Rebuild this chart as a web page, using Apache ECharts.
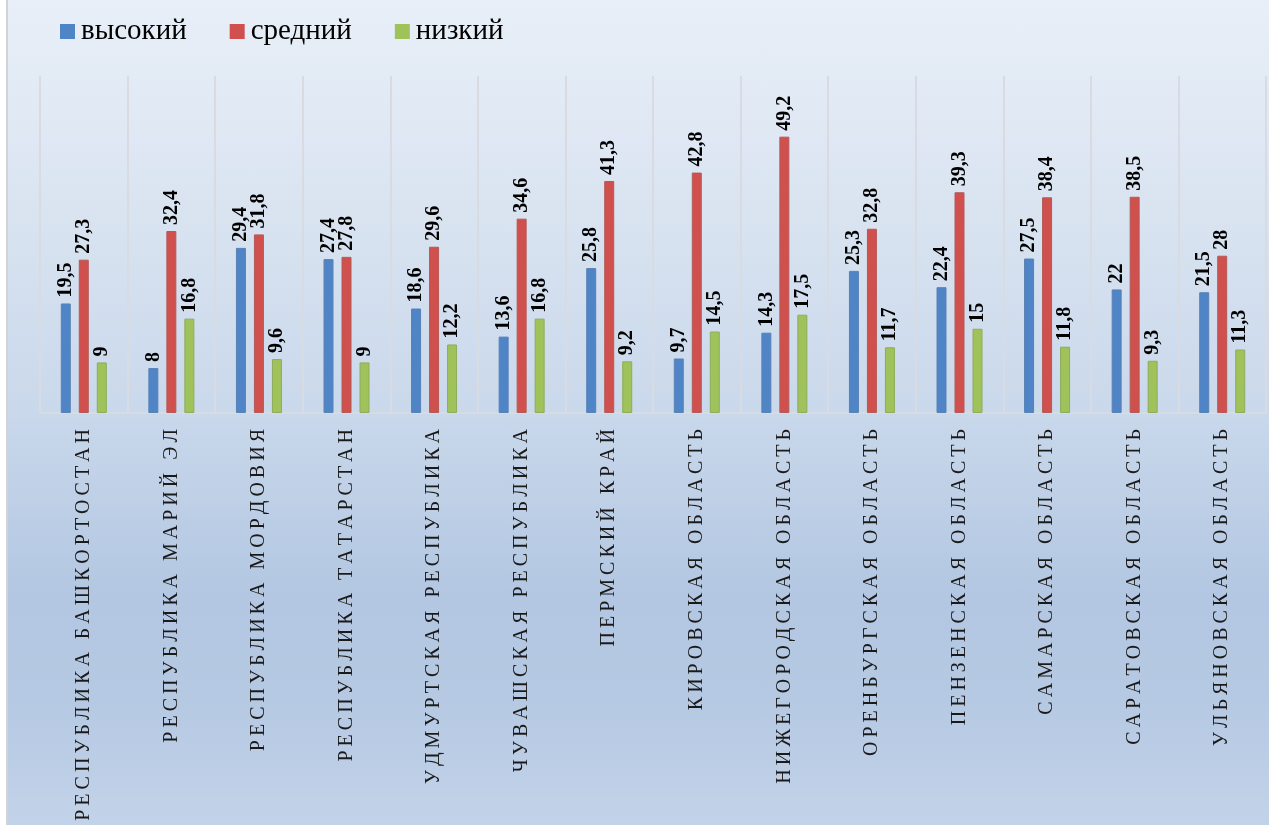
<!DOCTYPE html>
<html>
<head>
<meta charset="utf-8">
<script src="https://cdn.jsdelivr.net/npm/echarts@6/dist/echarts.min.js"></script>
<style>
  html, body { margin: 0; padding: 0; }
  #chart {
    width: 1269px; height: 825px;
    background:
      linear-gradient(to right, #ffffff 0, #ffffff 6px, #d2d4d8 6px, #d2d4d8 8px, rgba(0,0,0,0) 8px),
      linear-gradient(to bottom, #e8eff8 0%, #dae4f1 25%, #c9d8eb 50%, #b3c7e2 72%, #b6c9e3 85%, #c2d3e9 100%);
  }
</style>
</head>
<body>
<div id="chart"></div>
<script>
  // категории и значения
  const regions = ['РЕСПУБЛИКА БАШКОРТОСТАН', 'РЕСПУБЛИКА МАРИЙ ЭЛ', 'РЕСПУБЛИКА МОРДОВИЯ', 'РЕСПУБЛИКА ТАТАРСТАН',
    'УДМУРТСКАЯ РЕСПУБЛИКА', 'ЧУВАШСКАЯ РЕСПУБЛИКА', 'ПЕРМСКИЙ КРАЙ', 'КИРОВСКАЯ ОБЛАСТЬ',
    'НИЖЕГОРОДСКАЯ ОБЛАСТЬ', 'ОРЕНБУРГСКАЯ ОБЛАСТЬ', 'ПЕНЗЕНСКАЯ ОБЛАСТЬ', 'САМАРСКАЯ ОБЛАСТЬ',
    'САРАТОВСКАЯ ОБЛАСТЬ', 'УЛЬЯНОВСКАЯ ОБЛАСТЬ'];
  const seriesNames = ['высокий', 'средний', 'низкий'];
  const high = [19.5, 8, 29.4, 27.4, 18.6, 13.6, 25.8, 9.7, 14.3, 25.3, 22.4, 27.5, 22, 21.5];
  const mid = [27.3, 32.4, 31.8, 27.8, 29.6, 34.6, 41.3, 42.8, 49.2, 32.8, 39.3, 38.4, 38.5, 28];
  const low = [9, 16.8, 9.6, 9, 12.2, 16.8, 9.2, 14.5, 17.5, 11.7, 15, 11.8, 9.3, 11.3];

  const colors = ['#4f85c6', '#d0504d', '#9fc25a'];
  const borders = ['#5a82b4', '#b45a58', '#8eac5a'];
  const serif = '"Liberation Serif", "DejaVu Serif", serif';

  const myChart = echarts.init(document.getElementById('chart'));

  function bar(i, data) {
    return {
      name: seriesNames[i],
      type: 'bar',
      data: data,
      barWidth: 10,
      barGap: '80%',
      itemStyle: { color: colors[i], borderColor: borders[i], borderWidth: 1 },
      label: {
        show: true,
        position: 'top',
        rotate: 90,
        align: 'left',
        verticalAlign: 'middle',
        distance: 6,
        color: '#000',
        fontFamily: serif,
        fontWeight: 'bold',
        fontSize: 20,
        formatter: p => String(p.value).replace('.', ',')
      }
    };
  }

  myChart.setOption({
    animation: false,
    backgroundColor: 'transparent',
    legend: {
      left: 55,
      top: 12,
      itemWidth: 15,
      itemHeight: 15,
      itemGap: 43,
      icon: 'rect',
      itemStyle: { borderWidth: 0 },
      textStyle: { fontFamily: serif, fontSize: 29, color: '#000', padding: [0, 0, 0, 1] },
      data: seriesNames
    },
    grid: { left: 40, right: 3, top: 76, bottom: 412, outerBoundsMode: 'none', containLabel: false },
    xAxis: {
      type: 'category',
      data: regions,
      axisLine: { lineStyle: { color: '#d8dce2', width: 2 } },
      axisTick: { show: false },
      splitLine: { show: true, lineStyle: { color: '#d8dce2', width: 2 } },
      axisLabel: {
        interval: 0,
        rotate: 90,
        margin: 16,
        color: '#1a1a1a',
        fontFamily: serif,
        fontSize: 20,
        formatter: v => v.split('').join('\u2009')
      }
    },
    yAxis: {
      type: 'value',
      min: 0,
      max: 60,
      show: false,
      splitLine: { show: false }
    },
    series: [bar(0, high), bar(1, mid), bar(2, low)]
  });
</script>
</body>
</html>
